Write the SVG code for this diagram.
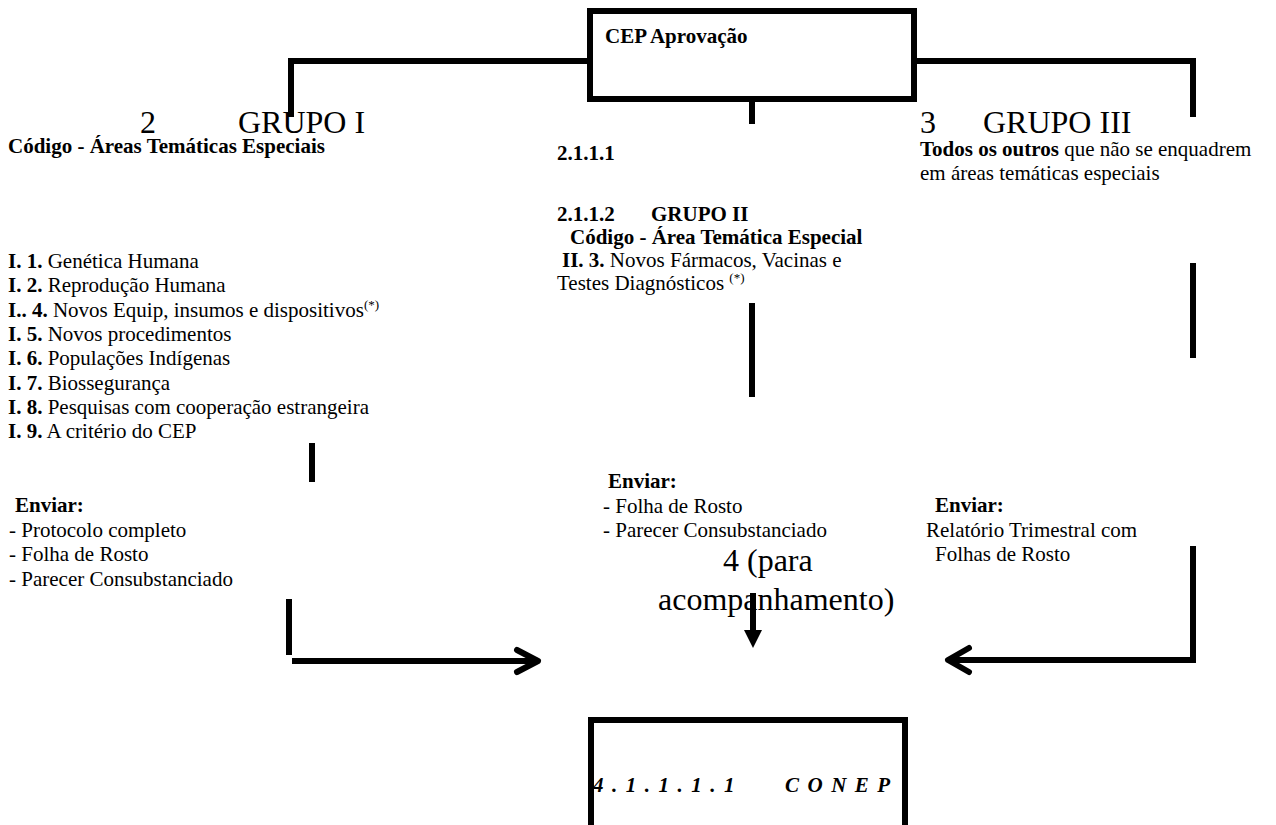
<svg xmlns="http://www.w3.org/2000/svg" width="1276" height="825" viewBox="0 0 1276 825">
<style>
text{font-family:"Liberation Serif","Times New Roman",serif;fill:#000;font-size:21px}
.b{font-weight:bold}
.big{font-size:32px}
.sup{font-size:13px}
.ln{stroke:#000;stroke-width:6;fill:none}
.conep{font-weight:bold;font-style:italic;letter-spacing:8.5px}
</style>
<rect width="1276" height="825" fill="#fff"/>
<g id="connectors">
<polyline class="ln" points="291,117 291,61 587,61"/>
<polyline class="ln" points="917,61 1193,61 1193,117"/>
<line class="ln" x1="752" y1="101" x2="752" y2="124"/>
<line class="ln" x1="752" y1="303" x2="752" y2="397"/>
<line class="ln" x1="1193" y1="263" x2="1193" y2="358"/>
<line class="ln" x1="312" y1="443" x2="312" y2="482"/>
<line class="ln" x1="289" y1="599" x2="289" y2="655"/>
<line class="ln" x1="292" y1="661" x2="536" y2="661"/>
<polyline class="ln" points="517,650 538,661 517,672" stroke-linecap="round" stroke-linejoin="round"/>
<polyline class="ln" points="1193,546 1193,660 950,660"/>
<polyline class="ln" points="969,648 948,660 969,672" stroke-linecap="round" stroke-linejoin="round"/>
<line class="ln" x1="753" y1="593" x2="753" y2="632"/>
<polygon points="744,630 762,630 753,648" fill="#000"/>
</g>
<g id="cep">
<rect class="ln" x="590" y="11" width="324" height="88"/>
<text class="b" x="605" y="43">CEP Aprovação</text>
</g>
<g id="grupo1">
<text class="big" x="140" y="133">2</text>
<text class="big" x="238" y="133">GRUPO I</text>
<text class="b" x="8" y="153">Código - Áreas Temáticas Especiais</text>
<text x="8" y="268"><tspan class="b">I. 1.</tspan> Genética Humana</text>
<text x="8" y="292.3"><tspan class="b">I. 2.</tspan> Reprodução Humana</text>
<text x="8" y="316.6"><tspan class="b">I.. 4.</tspan> Novos Equip, insumos e dispositivos<tspan class="sup" dy="-8">(*)</tspan></text>
<text x="8" y="340.9"><tspan class="b">I. 5.</tspan> Novos procedimentos</text>
<text x="8" y="365.2"><tspan class="b">I. 6.</tspan> Populações Indígenas</text>
<text x="8" y="389.5"><tspan class="b">I. 7.</tspan> Biossegurança</text>
<text x="8" y="413.8"><tspan class="b">I. 8.</tspan> Pesquisas com cooperação estrangeira</text>
<text x="8" y="438"><tspan class="b">I. 9.</tspan> A critério do CEP</text>
</g>
<g id="enviar1">
<text class="b" x="15" y="512">Enviar:</text>
<text x="9" y="536.5">- Protocolo completo</text>
<text x="9" y="561">- Folha de Rosto</text>
<text x="9" y="585.5">- Parecer Consubstanciado</text>
</g>
<g id="grupo2">
<text class="b" x="557" y="160">2.1.1.1</text>
<text class="b" x="557" y="221">2.1.1.2</text>
<text class="b" x="651" y="221">GRUPO II</text>
<text class="b" x="570" y="244">Código - Área Temática Especial</text>
<text x="562" y="267"><tspan class="b">II. 3.</tspan> Novos Fármacos, Vacinas e</text>
<text x="557" y="290">Testes Diagnósticos <tspan class="sup" dy="-8">(*)</tspan></text>
</g>
<g id="enviar2">
<text class="b" x="608" y="488">Enviar:</text>
<text x="603" y="512.5">- Folha de Rosto</text>
<text x="603" y="537">- Parecer Consubstanciado</text>
<text class="big" x="723" y="571">4 (para</text>
<text class="big" x="658" y="610">acompanhamento)</text>
</g>
<g id="grupo3">
<text class="big" x="920" y="133">3</text>
<text class="big" x="983" y="133">GRUPO III</text>
<text x="920" y="156"><tspan class="b">Todos os outros</tspan> que não se enquadrem</text>
<text x="920" y="180">em áreas temáticas especiais</text>
</g>
<g id="enviar3">
<text class="b" x="935" y="512">Enviar:</text>
<text x="926" y="536.5">Relatório Trimestral com</text>
<text x="935" y="561">Folhas de Rosto</text>
</g>
<g id="conep">
<rect class="ln" x="591" y="720" width="314" height="130"/>
<text class="conep" x="593" y="792">4.1.1.1.1</text>
<text class="conep" x="785" y="792">CONEP</text>
</g>
</svg>
